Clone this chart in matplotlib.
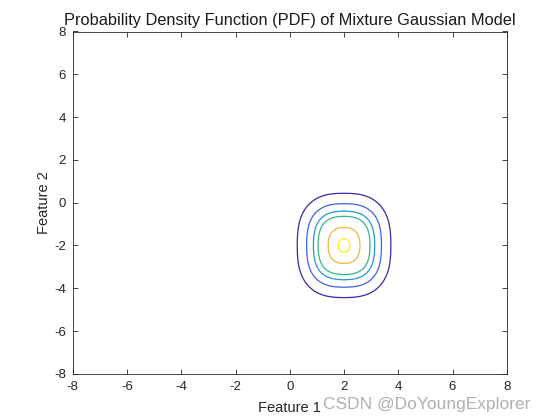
import matplotlib
matplotlib.use("Agg")
import matplotlib.pyplot as plt
import numpy as np

plt.rcParams['font.family'] = ['Liberation Sans', 'DejaVu Sans']
plt.rcParams['axes.unicode_minus'] = False

# mixture components (diagonal covariances)
weights = [0.25, 0.25, 0.25, 0.25]
means_x = [1.38, 2.62, 1.38, 2.62]
means_y = [-2.88, -2.88, -1.12, -1.12]
sig_x = [0.69, 0.69, 0.69, 0.69]
sig_y = [0.97, 0.97, 0.97, 0.97]

# contour levels as fraction of the peak density
level_fracs = [0.21, 0.42, 0.60, 0.72, 0.91, 0.99]
level_colors = ['#3e26a8', '#4160e6', '#2596de', '#33b88e', '#f2b63f', '#f5ee1c']

ticks = [-8, -6, -4, -2, 0, 2, 4, 6, 8]

x = np.linspace(-8, 8, 500)
y = np.linspace(-8, 8, 500)
X, Y = np.meshgrid(x, y)
Z = np.zeros_like(X)
for w, mx, my, sx, sy in zip(weights, means_x, means_y, sig_x, sig_y):
    Z += w * np.exp(-0.5 * ((X - mx) / sx) ** 2 - 0.5 * ((Y - my) / sy) ** 2) / (2 * np.pi * sx * sy)

levels = Z.max() * np.array(level_fracs)

fig = plt.figure(figsize=(5.6, 4.2), dpi=100)
ax = fig.add_axes([0.13, 0.11, 0.775, 0.815])
ax.contour(X, Y, Z, levels=levels, colors=level_colors, linewidths=0.9)

ax.set_xlim(-8, 8)
ax.set_ylim(-8, 8)
ax.set_xticks(ticks)
ax.set_yticks(ticks)
ax.tick_params(direction='in', length=3.5, width=0.6, top=True, right=True,
               labelsize=9.5, colors='#262626', pad=5)
for sp in ax.spines.values():
    sp.set_linewidth(0.6)
    sp.set_color('#262626')

ax.set_title('Probability Density Function (PDF) of Mixture Gaussian Model',
             fontsize=11.8, color='#1a1a1a', pad=5)
ax.set_xlabel('Feature 1', fontsize=10.5, color='#262626', labelpad=6)
ax.set_ylabel('Feature 2', fontsize=10.5, color='#262626', labelpad=2)

fig.text(0.577, 0.025, 'CSDN @DoYoungExplorer', fontsize=12.5, color='#b0b0b0')

fig.savefig('out.png', dpi=100)
